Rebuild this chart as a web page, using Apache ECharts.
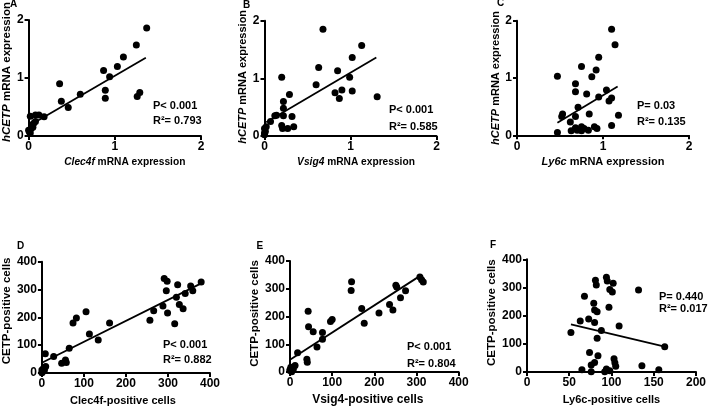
<!DOCTYPE html>
<html><head><meta charset="utf-8">
<script src="https://cdn.jsdelivr.net/npm/echarts@6/dist/echarts.min.js"></script>
<style>html,body{margin:0;padding:0;background:#fff}#c{width:709px;height:407px}</style>
</head><body><div id="c"></div>
<script>
// Panel A: Clec4f mRNA vs hCETP mRNA
const aX=[1.37,1.25,1.10,1.03,0.87,0.94,0.36,0.89,0.89,0.60,0.38,0.46,1.29,1.26,0.02,0.08,0.12,0.18,0.04,0.03,0.01,0.02,0.08,0.06,0.00,0.05];
const aY=[1.86,1.57,1.36,1.20,1.13,1.02,0.90,0.79,0.65,0.72,0.60,0.49,0.75,0.68,0.34,0.36,0.36,0.33,0.19,0.13,0.07,0.05,0.25,0.22,0.10,0.15];
const aFitX=[0.02,1.36], aFitY=[0.19,1.35];
// Panel B: Vsig4 mRNA vs hCETP mRNA
const bX=[0.68,1.13,1.02,0.63,0.85,0.20,0.99,0.60,0.90,0.82,1.02,0.87,1.31,0.29,0.22,0.22,0.14,0.12,0.22,0.32,0.07,0.20,0.21,0.27,0.34,0.00,0.01,0.00,0.02,0.00];
const bY=[1.85,1.57,1.36,1.19,1.13,1.02,1.02,0.89,0.80,0.75,0.78,0.65,0.68,0.72,0.60,0.48,0.36,0.35,0.35,0.34,0.25,0.18,0.13,0.13,0.16,0.13,0.08,0.05,0.16,0.02];
const bFitX=[0.02,1.30], bFitY=[0.24,1.36];
// Panel C: Ly6c mRNA vs hCETP mRNA
const cX=[1.10,1.14,0.95,0.75,0.92,0.47,0.87,0.68,1.04,0.68,0.81,0.95,1.10,1.07,0.71,0.53,0.52,0.68,0.84,1.18,0.62,1.10,0.90,0.68,0.75,0.78,0.63,0.70,0.75,0.83,0.93,0.47];
const cY=[1.85,1.58,1.36,1.20,1.14,1.03,1.02,0.90,0.79,0.76,0.72,0.67,0.65,0.60,0.49,0.37,0.33,0.33,0.37,0.35,0.23,0.17,0.15,0.13,0.15,0.12,0.08,0.09,0.08,0.09,0.12,0.05];
const cFitX=[0.47,1.17], cFitY=[0.22,0.85];
// Panel D: Clec4f-positive vs CETP-positive cells
const dX=[379,291,298,296,323,354,359,341,320,327,336,288,266,299,257,316,105,82,74,161,113,134,65,8,28,56,47,58,9,4,0,2,0,6];
const dY=[327,340,330,296,317,313,296,286,272,246,231,241,224,216,190,177,220,198,180,180,140,119,89,69,59,47,35,38,23,17,11,5,1,11];
const dFitX=[0,379], dFitY=[37,322];
// Panel E: Vsig4-positive vs CETP-positive cells
const eX=[146,145,308,312,316,251,253,274,262,236,244,211,170,176,43,44,55,96,100,77,77,64,18,40,41,12,2,0,4,0,8];
const eY=[325,294,342,332,324,313,306,293,268,243,223,213,229,176,219,163,145,182,189,142,118,90,69,46,35,23,17,8,1,5,11];
const eFitX=[0,312], eFitY=[44,350];
// Panel F: Ly6c-positive vs CETP-positive cells
const fX=[94,95,81,82,102,98,101,132,68,79,80,83,97,63,73,80,88,109,52,83,163,74,84,80,76,103,104,105,136,65,76,94,98,92,156];
const fY=[336,323,326,309,315,293,284,291,269,244,220,214,230,181,188,176,147,163,140,120,90,69,58,34,25,47,33,20,22,8,1,11,4,1,8];
const fFitX=[52,163], fFitY=[169,90];

const panelLetters=['A','B','C','D','E','F'];
const xNames=['{i|Clec4f} mRNA expression','{i|Vsig4} mRNA expression','{i|Ly6c} mRNA expression','Clec4f-positive cells','Vsig4-positive cells','Ly6c-positive cells'];
const yNames=['{i|hCETP} mRNA expression','{i|hCETP} mRNA expression','{i|hCETP} mRNA expression','CETP-positive cells','CETP-positive cells','CETP-positive cells'];
const pTexts=['P< 0.001','P< 0.001','P= 0.03','P< 0.001','P< 0.001','P= 0.440'];
const r2Texts=['R²= 0.793','R²= 0.585','R²= 0.135','R²= 0.882','R²= 0.804','R²= 0.017'];
const xRanges=[[0,2,1],[0,2,1],[0,2,1],[0,400,100],[0,400,100],[0,200,50]];
const yRanges=[[0,2,1],[0,2,1],[0,2,1],[0,400,100],[0,400,100],[0,400,100]];

const FONT="'Liberation Sans', Arial, sans-serif";
const grids=[
 {left:26,top:20,width:175,height:116},
 {left:264.5,top:20.7,width:172,height:115.3},
 {left:517,top:20.7,width:172,height:114.6},
 {left:40.7,top:261.7,width:169.3,height:111.3},
 {left:290,top:261,width:168.7,height:112},
 {left:527,top:259.3,width:169.7,height:112.7}
];
const yGaps=[13,15,12,27,25,27];
const xGaps=[21,21,21,22,22,22];
const xNameSize=[10.2,10.2,11,11,12,11];
const yNameSize=[11.5,11,11,11.5,11.5,11.5];
const xPad=[[0,0,0,20],[0,0,0,11],[0,0,0,0],[0,6,0,0],[0,13,0,0],[0,0,0,0]];
const yPad=[[0,0,0,12],[0,0,0,3],[0,0,0,0],[0,0,0,13],[0,0,0,6],[0,0,0,6]];
const pPos=[[153,100.5,115.5],[389,104,121.5],[637,100,116],[163,339,354],[407,341,358],[659,291.5,303.5]];
const letterPos=[[10,-0.5],[243,0],[497,-2],[17,241],[256.5,241],[490,240]];

const allX=[aX,bX,cX,dX,eX,fX], allY=[aY,bY,cY,dY,eY,fY];
const fitX=[aFitX,bFitX,cFitX,dFitX,eFitX,fFitX], fitY=[aFitY,bFitY,cFitY,dFitY,eFitY,fFitY];

function axisBase(r){
 return {type:'value',min:r[0],max:r[1],interval:r[2],
  axisLine:{show:true,onZero:false,lineStyle:{color:'#000',width:2}},
  axisTick:{show:true,inside:false,length:4,lineStyle:{color:'#000',width:2}},
  axisLabel:{color:'#000',fontWeight:'bold',fontSize:12,fontFamily:FONT,margin:5,showMinLabel:true,showMaxLabel:true},
  splitLine:{show:false},nameLocation:'middle'};
}
const xAxis=[],yAxis=[],series=[],graphic=[];
for(let i=0;i<6;i++){
 xAxis.push(Object.assign(axisBase(xRanges[i]),{gridIndex:i,name:xNames[i],nameGap:xGaps[i],
  nameTextStyle:{color:'#000',fontWeight:'bold',fontSize:xNameSize[i],fontFamily:FONT,padding:xPad[i],
   rich:{i:{fontStyle:'italic',fontWeight:'bold',fontSize:xNameSize[i],fontFamily:FONT,color:'#000'}}}}));
 yAxis.push(Object.assign(axisBase(yRanges[i]),{gridIndex:i,name:yNames[i],nameGap:yGaps[i],nameRotate:90,
  nameTextStyle:{color:'#000',fontWeight:'bold',fontSize:yNameSize[i],fontFamily:FONT,padding:yPad[i],
   rich:{i:{fontStyle:'italic',fontWeight:'bold',fontSize:yNameSize[i],fontFamily:FONT,color:'#000'}}}}));
 series.push({type:'scatter',xAxisIndex:i,yAxisIndex:i,symbolSize:7,itemStyle:{color:'#000',opacity:1},
  data:allX[i].map((v,k)=>[v,allY[i][k]]),z:3});
 series.push({type:'line',xAxisIndex:i,yAxisIndex:i,symbol:'none',lineStyle:{color:'#000',width:1.8},
  data:fitX[i].map((v,k)=>[v,fitY[i][k]]),z:2});
 graphic.push({type:'text',left:pPos[i][0],top:pPos[i][1],style:{text:pTexts[i],font:'bold 11px '+FONT,fill:'#000'}});
 graphic.push({type:'text',left:pPos[i][0],top:pPos[i][2],style:{text:r2Texts[i],font:'bold 11px '+FONT,fill:'#000'}});
 graphic.push({type:'text',left:letterPos[i][0],top:letterPos[i][1],style:{text:panelLetters[i],font:'bold 10px '+FONT,fill:'#000'}});
}
const chart=echarts.init(document.getElementById('c'),null,{renderer:'canvas'});
chart.setOption({animation:false,backgroundColor:'#fff',grid:grids,xAxis,yAxis,series,graphic});
</script>
</body></html>
